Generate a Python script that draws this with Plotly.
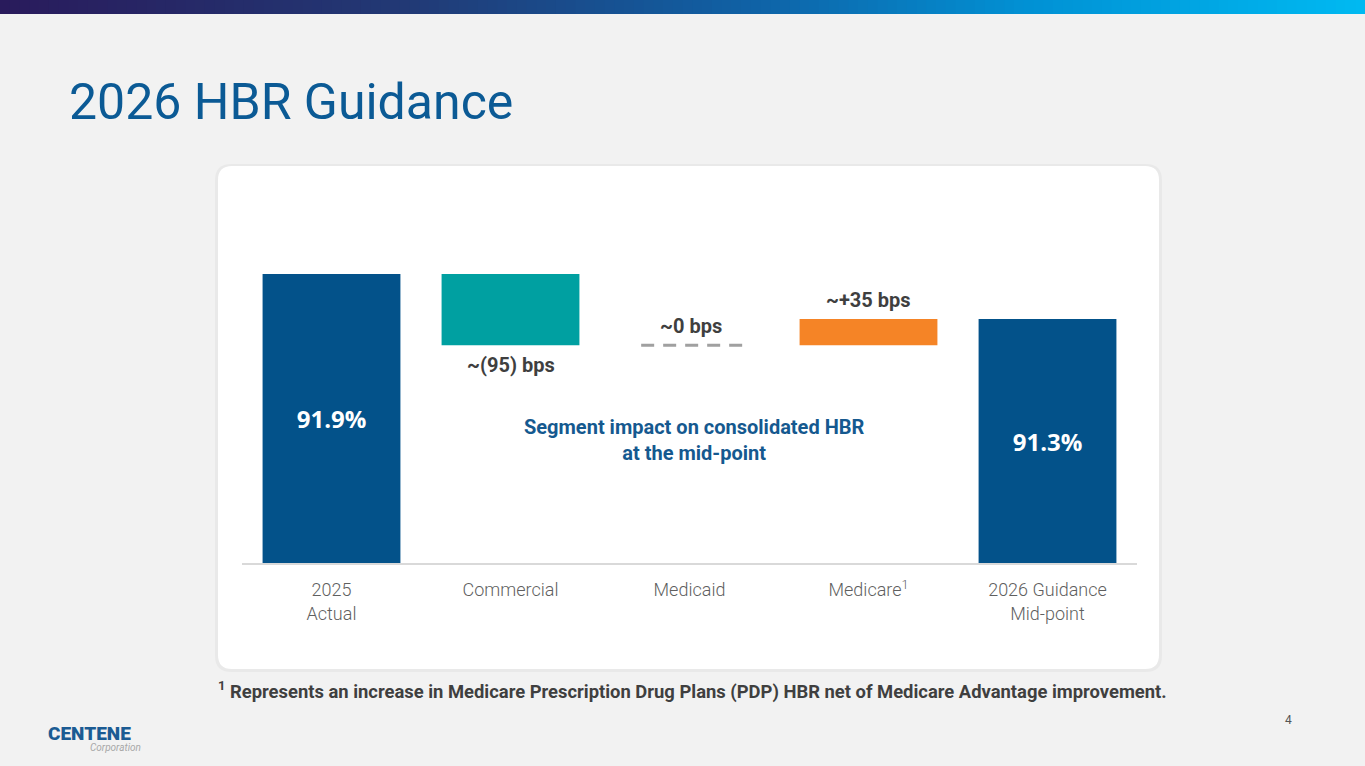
import plotly.graph_objects as go

# ---------------- data ----------------
categories = ["2025<br>Actual", "Commercial", "Medicaid", "Medicare<sup>1</sup>", "2026 Guidance<br>Mid-point"]
start_value = 91.9
segment_bps = [-95, 0, 35]
segment_labels = ["~(95) bps", "~0 bps", "~+35 bps"]
end_value = 91.3
total_labels = ["91.9%", "91.3%"]

# ---------------- styling ----------------
W, H = 1365, 766
Y_MIN, Y_MAX = 88.047, 93.02
DARK_BLUE = "#03528A"
TEAL = "#00A0A1"
ORANGE = "#F58426"
LABEL_GRAY = "#3F3F3F"
TICK_GRAY = "#5F5F5F"
TITLE_BLUE = "#0B5A95"


def px(x):
    return x / W


def py(y):
    return 1 - y / H


fig = go.Figure()

xpos = list(range(len(categories)))

# totals
fig.add_trace(go.Bar(
    x=[xpos[0], xpos[-1]],
    y=[start_value - Y_MIN, end_value - Y_MIN],
    base=[Y_MIN, Y_MIN],
    marker=dict(color=DARK_BLUE, line=dict(width=0)),
    width=0.77,
    text=total_labels,
    textposition="inside",
    insidetextanchor="middle",
    textfont=dict(family="Open Sans", size=24, color="white", weight="bold"),
    hoverinfo="skip",
    showlegend=False,
))

# segments
colors = [TEAL, None, ORANGE]
annotations = []
level = start_value
for i, (d, lab, col) in enumerate(zip(segment_bps, segment_labels, colors)):
    xi = xpos[i + 1]
    new = level + d / 100.0
    lo, hi = min(level, new), max(level, new)
    if d != 0:
        fig.add_trace(go.Bar(
            x=[xi], y=[hi - lo], base=[lo],
            marker=dict(color=col, line=dict(width=0)),
            width=0.77, hoverinfo="skip", showlegend=False,
        ))
    else:
        fig.add_shape(type="line", xref="x", yref="y",
                      x0=xi - 0.27, x1=xi + 0.31, y0=level, y1=level,
                      y0shift=0.02, y1shift=0.02,
                      line=dict(color="#A0A0A0", width=3, dash="13px,9px"))
    if d < 0:
        annotations.append(dict(x=xi, y=lo, xref="x", yref="y", text=lab,
                                showarrow=False, yanchor="top", yshift=-6,
                                font=dict(family="Roboto", size=20, color=LABEL_GRAY, weight="bold")))
    else:
        annotations.append(dict(x=xi + (0.01 if d == 0 else 0), y=hi, xref="x", yref="y", text=lab,
                                showarrow=False, yanchor="bottom", yshift=5,
                                font=dict(family="Roboto", size=20, color=LABEL_GRAY, weight="bold")))
    level = new

# center caption
annotations.append(dict(x=px(694), y=py(440), xref="paper", yref="paper",
                        text="Segment impact on consolidated HBR<br>at the mid-point",
                        showarrow=False, align="center",
                        font=dict(family="Roboto", size=20, color="#15598F", weight="bold")))

# title
annotations.append(dict(x=px(67), y=py(102), xref="paper", yref="paper",
                        text="2026 HBR Guidance", showarrow=False,
                        xanchor="left", yanchor="middle",
                        font=dict(family="Roboto", size=50, color=TITLE_BLUE)))

# footnote
annotations.append(dict(x=px(216), y=py(690), xref="paper", yref="paper",
                        text="<sup>1</sup> Represents an increase in Medicare Prescription Drug Plans (PDP) HBR net of Medicare Advantage improvement.",
                        showarrow=False, xanchor="left", yanchor="middle",
                        font=dict(family="Roboto", size=18.4, color=LABEL_GRAY, weight="bold")))

# page number
annotations.append(dict(x=px(1294), y=py(729), xref="paper", yref="paper", text="4",
                        showarrow=False, font=dict(family="Roboto", size=12, color="#555555")))

# logo
annotations.append(dict(x=px(46), y=py(733), xref="paper", yref="paper", text="CENTENE",
                        showarrow=False, xanchor="left", yanchor="middle",
                        font=dict(family="Roboto", size=19, color="#1B5B93", weight=900)))
annotations.append(dict(x=px(88), y=py(747), xref="paper", yref="paper", text="<i>Corporation</i>",
                        showarrow=False, xanchor="left", yanchor="middle",
                        font=dict(family="Roboto", size=10, color="#A8A8A8")))

shapes = []


def rounded(x0, y0, x1, y1, r):
    rx, ry = r / W, r / H
    X0, X1 = px(x0), px(x1)
    Y0, Y1 = py(y0), py(y1)
    return (f"M {X0+rx},{Y0} L {X1-rx},{Y0} Q {X1},{Y0} {X1},{Y0-ry} "
            f"L {X1},{Y1+ry} Q {X1},{Y1} {X1-rx},{Y1} L {X0+rx},{Y1} "
            f"Q {X0},{Y1} {X0},{Y1+ry} L {X0},{Y0-ry} Q {X0},{Y0} {X0+rx},{Y0} Z")


shapes.append(dict(type="path", xref="paper", yref="paper", layer="below",
                   path=rounded(215, 164, 1162, 672, 16), fillcolor="rgba(0,0,0,0.035)",
                   line=dict(width=0)))
shapes.append(dict(type="path", xref="paper", yref="paper", layer="below",
                   path=rounded(218, 166, 1159, 669, 14), fillcolor="white",
                   line=dict(width=0)))

# top gradient banner
stops = [(0.0, (42, 27, 92)), (0.3, (34, 58, 118)), (0.55, (16, 98, 166)),
         (0.75, (2, 145, 212)), (1.0, (0, 186, 242))]


def grad(t):
    for (a, ca), (b, cb) in zip(stops[:-1], stops[1:]):
        if a <= t <= b:
            f = (t - a) / (b - a)
            return tuple(int(ca[k] + (cb[k] - ca[k]) * f) for k in range(3))
    return stops[-1][1]


N = 140
for k in range(N):
    c = grad((k + 0.5) / N)
    shapes.append(dict(type="rect", xref="paper", yref="paper",
                       x0=k / N, x1=(k + 1) / N + 0.002, y0=py(14), y1=1,
                       fillcolor=f"rgb{c}", line=dict(width=0), layer="above"))

fig.update_layout(
    width=W, height=H,
    margin=dict(l=0, r=0, t=0, b=0),
    paper_bgcolor="#F2F2F2",
    plot_bgcolor="rgba(0,0,0,0)",
    barmode="overlay",
    showlegend=False,
    annotations=annotations,
    shapes=fig.layout.shapes + tuple(shapes),
    xaxis=dict(domain=[px(242), px(1137)], range=[-0.5, 4.5],
               tickmode="array", tickvals=xpos, ticktext=categories,
               showgrid=False, zeroline=False, showline=True,
               linecolor="#D9D9D9", linewidth=1.5, ticks="",
               ticklabelstandoff=10,
               tickfont=dict(family="Roboto", size=18, color=TICK_GRAY, weight=300),
               fixedrange=True),
    yaxis=dict(domain=[py(563), py(190)], range=[Y_MIN, Y_MAX],
               visible=False, fixedrange=True),
)

fig.write_html("out.html", config={"displayModeBar": False},
               post_script="document.body.style.margin='0';document.body.style.overflow='hidden';")
